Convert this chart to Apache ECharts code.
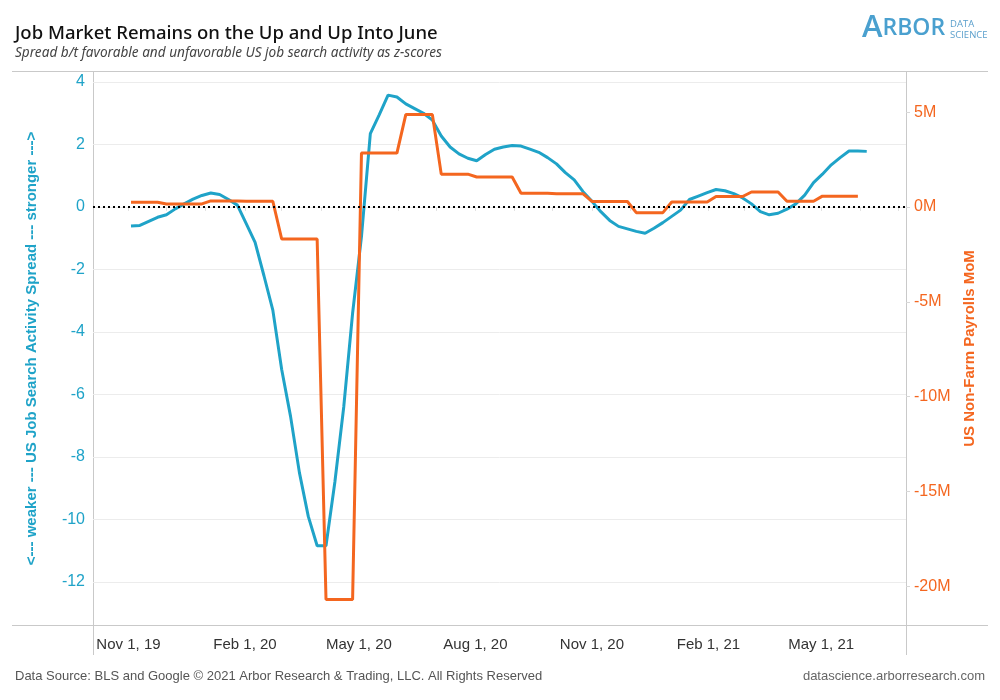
<!DOCTYPE html>
<html><head><meta charset="utf-8">
<script src="https://cdn.jsdelivr.net/npm/echarts@6/dist/echarts.min.js"></script>
<style>html,body{margin:0;padding:0;background:#fff}#c{width:1000px;height:700px}</style>
</head><body><div id="c"></div>
<script>
// weekly observation dates: first week start and count
const firstWeek = '2019-11-03';
const weekCount = 84;

// US job search activity spread (z-score), weekly
const blueSpread = [
  -0.61,-0.59,-0.46,-0.33,-0.25,-0.06,0.10,0.25,0.37,0.45,
  0.40,0.24,0.06,-0.53,-1.13,-2.2,-3.3,-5.2,-6.7,-8.5,
  -9.9,-10.84,-10.84,-8.8,-6.4,-3.4,-0.95,2.35,2.95,3.58,
  3.52,3.3,3.15,3.0,2.78,2.27,1.92,1.70,1.56,1.48,
  1.68,1.85,1.92,1.97,1.95,1.85,1.75,1.58,1.38,1.1,
  0.87,0.49,0.18,-0.15,-0.43,-0.62,-0.70,-0.78,-0.84,-0.68,
  -0.5,-0.3,-0.1,0.24,0.35,0.46,0.56,0.52,0.43,0.29,
  0.1,-0.15,-0.25,-0.2,-0.07,0.10,0.38,0.78,1.05,1.35,
  1.58,1.79,1.79,1.78
];

// US non-farm payrolls MoM (millions), weekly
const payrollsM = [
  0.25,0.25,0.25,0.25,
  0.16,0.16,0.16,0.16,0.16,
  0.32,0.32,0.32,0.32,
  0.30,0.30,0.30,0.30,
  -1.69,-1.69,-1.69,-1.69,-1.69,
  -20.7,-20.7,-20.7,-20.7,
  2.84,2.84,2.84,2.84,2.84,
  4.87,4.87,4.87,4.87,
  1.73,1.73,1.73,1.73,
  1.58,1.58,1.58,1.58,1.58,
  0.72,0.72,0.72,0.72,
  0.69,0.69,0.69,0.69,
  0.29,0.29,0.29,0.29,0.29,
  -0.30,-0.30,-0.30,-0.30,
  0.26,0.26,0.26,0.26,0.26,
  0.55,0.55,0.55,0.55,
  0.79,0.79,0.79,0.79,
  0.30,0.30,0.30,0.30,
  0.57,0.57,0.57,0.57,0.57,
  null
];

// axis tick labels
const xTickDates = ['2019-11-01','2020-02-01','2020-05-01','2020-08-01','2020-11-01','2021-02-01','2021-05-01'];
const xMinorTickDates = ['2019-11-01','2019-12-01','2020-01-01','2020-02-01','2020-03-01','2020-04-01','2020-05-01','2020-06-01','2020-07-01','2020-08-01','2020-09-01','2020-10-01','2020-11-01','2020-12-01','2021-01-01','2021-02-01','2021-03-01','2021-04-01','2021-05-01','2021-06-01','2021-07-01'];
const leftTicks = [4,2,0,-2,-4,-6,-8,-10,-12];
const rightTicks = [5,0,-5,-10,-15,-20];
const xRange = ['2019-10-04','2021-07-07'];
const leftRange = [-13.408, 4.352];
const rightRange = [-22.10, 7.17];

function ts(s){ const p=s.split('-').map(Number); return new Date(p[0],p[1]-1,p[2]).getTime(); }
const weekDates = [];
{ const d0=new Date(ts(firstWeek));
  for(let i=0;i<weekCount;i++){ weekDates.push(new Date(d0.getFullYear(), d0.getMonth(), d0.getDate()+7*i).getTime()); } }

const BLUE='#1fa3c8', ORANGE='#f4661f', GRID='#c9c9c9';
const MONTHS=['Jan','Feb','Mar','Apr','May','Jun','Jul','Aug','Sep','Oct','Nov','Dec'];
const FONT='"Liberation Sans", Arial, sans-serif';

const chart = echarts.init(document.getElementById('c'), null, {renderer:'canvas'});
chart.setOption({
  animation:false,
  backgroundColor:'#fff',
  grid:{left:93,right:94,top:71,bottom:74,containLabel:false},
  xAxis:{
    type:'value', min:ts(xRange[0]), max:ts(xRange[1]), scale:true,
    axisLine:{show:false},
    axisTick:{show:true, customValues:xMinorTickDates.map(ts), length:4, lineStyle:{color:'#e3e3e3'}},
    splitLine:{show:false},
    axisLabel:{
      customValues:xTickDates.map(ts), margin:11, fontSize:15, color:'#333', fontFamily:FONT,
      formatter:function(v){ const d=new Date(v); return MONTHS[d.getMonth()]+' '+d.getDate()+', '+String(d.getFullYear()).slice(2); }
    }
  },
  yAxis:[{
    type:'value', position:'left', min:leftRange[0], max:leftRange[1],
    axisLine:{show:false}, axisTick:{show:false, customValues:leftTicks},
    splitLine:{show:true, lineStyle:{color:'#ececec', width:1}},
    axisLabel:{customValues:leftTicks, color:BLUE, fontSize:16, margin:8, fontFamily:FONT},
    name:'<--- weaker --- US Job Search Activity Spread --- stronger --->',
    nameLocation:'middle', nameRotate:90, nameGap:54,
    nameTextStyle:{color:BLUE, fontSize:15, fontWeight:'bold', fontFamily:FONT}
  },{
    type:'value', position:'right', min:rightRange[0], max:rightRange[1],
    axisLine:{show:false},
    axisTick:{show:true, customValues:rightTicks, length:4, lineStyle:{color:'#d8d8d8'}},
    splitLine:{show:false},
    axisLabel:{customValues:rightTicks, color:ORANGE, fontSize:16, margin:8, fontFamily:FONT,
      formatter:function(v){return v+'M';}},
    name:'US Non-Farm Payrolls MoM',
    nameLocation:'middle', nameRotate:90, nameGap:56,
    nameTextStyle:{color:ORANGE, fontSize:15, fontWeight:'bold', fontFamily:FONT}
  }],
  series:[{
    type:'line', name:'Spread', yAxisIndex:0, showSymbol:false, symbol:'none',
    data: weekDates.map((t,i)=>[t, blueSpread[i]]),
    lineStyle:{color:BLUE, width:3}, itemStyle:{color:BLUE}, z:3,
    markLine:{silent:true, symbol:'none', label:{show:false}, animation:false,
      lineStyle:{color:'#000', type:[2,3], width:2}, data:[{yAxis:0}]}
  },{
    type:'line', name:'Payrolls', yAxisIndex:1, showSymbol:false, symbol:'none',
    data: weekDates.map((t,i)=>[t, payrollsM[i]]),
    lineStyle:{color:ORANGE, width:3}, itemStyle:{color:ORANGE}, z:4
  }],
  graphic:[
    {type:'line', shape:{x1:12,y1:71.5,x2:988,y2:71.5}, style:{stroke:GRID,lineWidth:1}, silent:true},
    {type:'line', shape:{x1:12,y1:625.5,x2:988,y2:625.5}, style:{stroke:GRID,lineWidth:1}, silent:true},
    {type:'line', shape:{x1:93.5,y1:71,x2:93.5,y2:655}, style:{stroke:GRID,lineWidth:1}, silent:true},
    {type:'line', shape:{x1:906.5,y1:71,x2:906.5,y2:655}, style:{stroke:GRID,lineWidth:1}, silent:true},
    {type:'text', left:15, top:24, style:{text:'Job Market Remains on the Up and Up Into June', fill:'#111', font:'500 18.5px "Noto Sans", sans-serif'}},
    {type:'text', left:15, top:46, style:{text:'Spread b/t favorable and unfavorable US job search activity as z-scores', fill:'#444', font:'italic 13.6px "Noto Sans", sans-serif'}},
    {type:'text', left:862, top:13, style:{text:'{a|A}{b|RBOR}', rich:{a:{fontSize:31,fill:'#4aa0cf',fontFamily:'"Open Sans", sans-serif',fontWeight:600},b:{fontSize:23,fill:'#4aa0cf',fontFamily:'"Open Sans", sans-serif',fontWeight:600}}}},
    {type:'text', left:950, top:19, style:{text:'DATA', fill:'#5a9fcc', font:'9.5px "Open Sans", sans-serif'}},
    {type:'text', left:950, top:30, style:{text:'SCIENCE', fill:'#5a9fcc', font:'9.5px "Open Sans", sans-serif'}},
    {type:'text', left:15, top:670, style:{text:'Data Source: BLS and Google \u00a9 2021 Arbor Research & Trading, LLC. All Rights Reserved', fill:'#555', font:'13px "Liberation Sans", Arial, sans-serif'}},
    {type:'text', right:15, top:670, style:{text:'datascience.arborresearch.com', fill:'#666', font:'13px "Liberation Sans", Arial, sans-serif'}}
  ]
});
</script></body></html>
